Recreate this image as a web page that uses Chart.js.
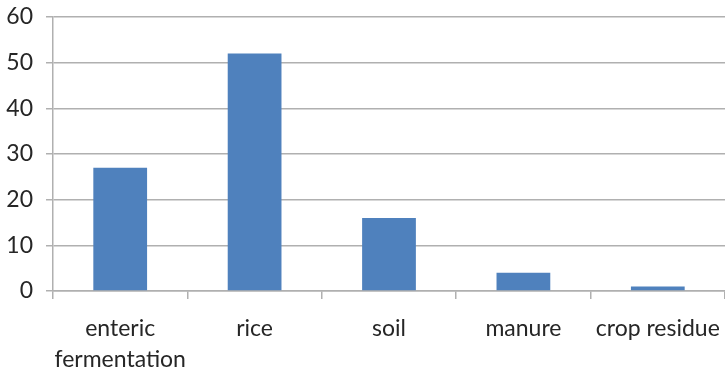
<!DOCTYPE html>
<html>
<head>
<meta charset="utf-8">
<script src="https://cdn.jsdelivr.net/npm/chart.js@4/dist/chart.umd.min.js"></script>
<style>
  html, body { margin: 0; padding: 0; background: #ffffff; }
  #wrap { width: 725px; height: 375px; }
</style>
</head>
<body>
<div id="wrap"><canvas id="c" width="725" height="375"></canvas></div>
<script>
// Agricultural methane sources
const categories = [["enteric", "fermentation"], "rice", "soil", "manure", "crop residue"];
const emissions = [27, 52, 16, 4, 1];
const yTicks = [0, 10, 20, 30, 40, 50, 60];

const gridGrey = '#b0b0b0';
const textColor = '#262626';
const font = { family: 'Lato', size: 23 };

// fixed axis sizes so the plot area sits where intended
function clearPadding(scale) {
  scale.paddingTop = 0;
  scale.paddingBottom = 0;
  scale.paddingLeft = 0;
  scale.paddingRight = 0;
}

new Chart(document.getElementById('c'), {
  type: 'bar',
  data: {
    labels: categories,
    datasets: [{
      data: emissions,
      backgroundColor: '#4f81bd',
      borderWidth: 0,
      barPercentage: 0.4,
      categoryPercentage: 1.0
    }]
  },
  options: {
    responsive: false,
    animation: false,
    layout: { padding: { left: 6, top: 17, right: 0, bottom: 0 } },
    plugins: { legend: { display: false }, tooltip: { enabled: false } },
    scales: {
      x: {
        afterFit: (scale) => { scale.height = 84; clearPadding(scale); },
        grid: {
          offset: true,
          drawOnChartArea: false,
          drawTicks: true,
          tickLength: 8,
          color: gridGrey,
          lineWidth: 1.5
        },
        border: { display: true, color: gridGrey, width: 1.5 },
        ticks: {
          color: textColor,
          font: { ...font, lineHeight: 1.35 },
          padding: 14,
          maxRotation: 0,
          autoSkip: false
        }
      },
      y: {
        min: 0,
        max: 60,
        afterBuildTicks: (scale) => { scale.ticks = yTicks.map(v => ({ value: v })); },
        afterFit: (scale) => { scale.width = 47; clearPadding(scale); },
        grid: {
          color: gridGrey,
          lineWidth: 1.5,
          drawTicks: true,
          tickLength: 7
        },
        border: { display: true, color: gridGrey, width: 1.5 },
        ticks: {
          color: textColor,
          font: font,
          padding: 13
        }
      }
    }
  }
});
</script>
</body>
</html>
